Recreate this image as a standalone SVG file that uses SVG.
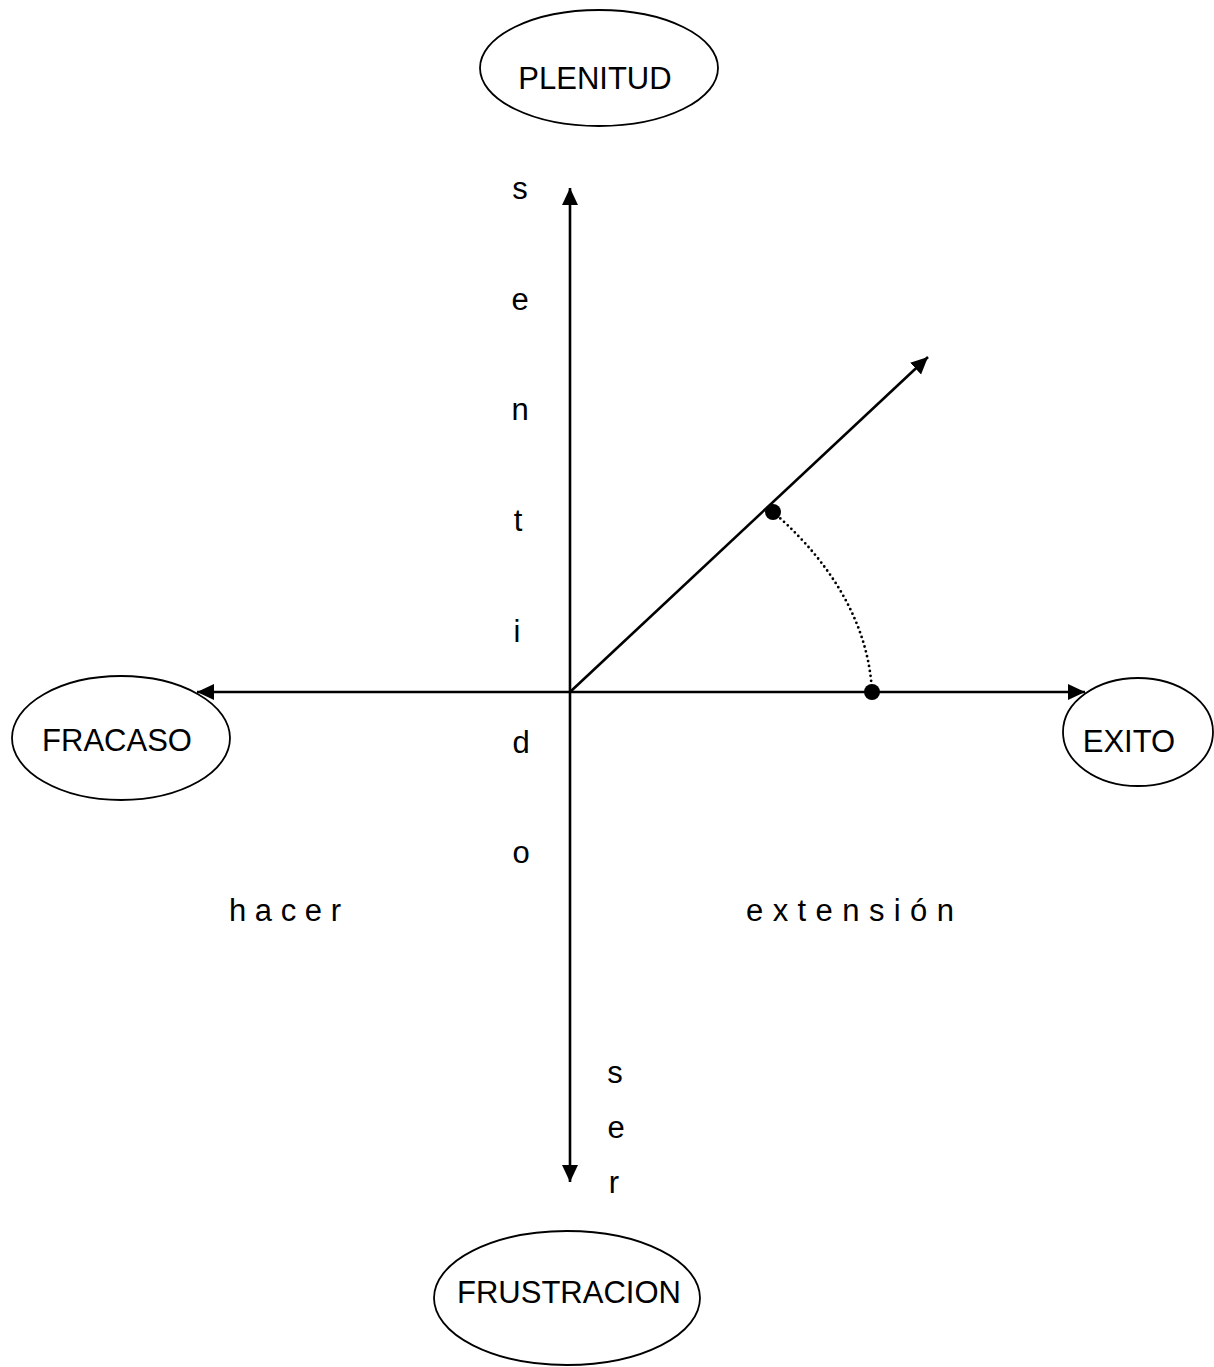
<svg xmlns="http://www.w3.org/2000/svg" width="1214" height="1367" viewBox="0 0 1214 1367">
<defs>
<marker id="arr" markerUnits="userSpaceOnUse" markerWidth="18" markerHeight="18" refX="17" refY="9" orient="auto-start-reverse">
<path d="M0,1 L17,9 L0,17 z" fill="#000"/>
</marker>
<style>
.node ellipse{fill:#fff;stroke:#000;stroke-width:1.8}
text{font-family:"Liberation Sans",Arial,sans-serif;font-size:31px;fill:#000}
.c{text-anchor:middle}
.ax{stroke:#000;stroke-width:2.6;fill:none}
.dot{fill:#000}
</style>
</defs>
<rect width="1214" height="1367" fill="#fff"/>
<g id="connectors">
<line class="ax" x1="570" y1="1182" x2="570" y2="188" marker-start="url(#arr)" marker-end="url(#arr)"/>
<line class="ax" x1="197" y1="692" x2="1085" y2="692" marker-start="url(#arr)" marker-end="url(#arr)"/>
<line class="ax" x1="570" y1="692" x2="928" y2="357" marker-end="url(#arr)"/>
<path d="M773,512 C815,548 868,610 872,692" fill="none" stroke="#000" stroke-width="2.8" stroke-linecap="round" stroke-dasharray="0 5"/>
<circle class="dot" cx="773" cy="512" r="8"/>
<circle class="dot" cx="872" cy="692" r="8"/>
</g>
<g id="plenitud" class="node">
<ellipse cx="599" cy="68" rx="119" ry="58"/>
<text class="c" x="595" y="89">PLENITUD</text>
</g>
<g id="fracaso" class="node">
<ellipse cx="121" cy="738" rx="109" ry="62"/>
<text class="c" x="117" y="751">FRACASO</text>
</g>
<g id="exito" class="node">
<ellipse cx="1138" cy="732" rx="75" ry="54"/>
<text class="c" x="1129" y="752">EXITO</text>
</g>
<g id="frustracion" class="node">
<ellipse cx="567" cy="1298" rx="133" ry="67"/>
<text class="c" x="569" y="1303">FRUSTRACION</text>
</g>
<g id="labels">
<text class="c" x="520" y="199">s</text>
<text class="c" x="520" y="310">e</text>
<text class="c" x="520" y="420">n</text>
<text class="c" x="518" y="531">t</text>
<text class="c" x="517" y="642">i</text>
<text class="c" x="521" y="753">d</text>
<text class="c" x="521" y="863">o</text>
<text class="c" x="615" y="1083">s</text>
<text class="c" x="616" y="1138">e</text>
<text class="c" x="614" y="1193">r</text>
<text x="229" y="921" xml:space="preserve">h a c e r</text>
<text x="746" y="921" xml:space="preserve" letter-spacing="0.4">e x t e n s i ó n</text>
</g>
</svg>
